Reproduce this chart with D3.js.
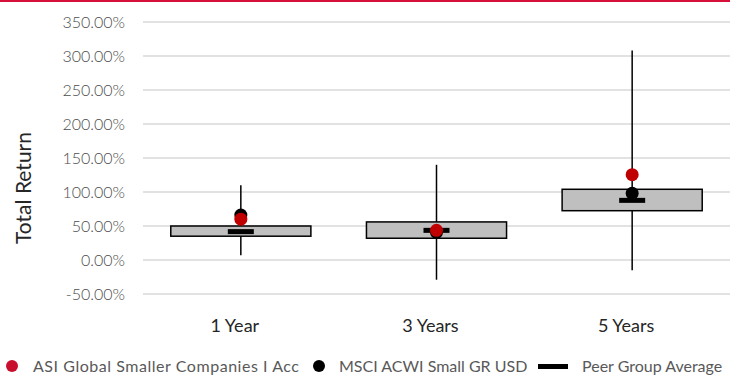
<!DOCTYPE html>
<html><head><meta charset="utf-8">
<script src="https://cdn.jsdelivr.net/npm/d3@7"></script>
<style>body{margin:0;background:#fff;}svg{display:block;font-family:"Lato","Noto Sans",sans-serif;}</style>
</head><body><svg id="c" width="730" height="376"></svg>
<script>
const categories = ["1 Year", "3 Years", "5 Years"];
const whiskerHigh = [110, 140, 308];
const whiskerLow = [7, -29, -15];
const boxHigh = [50, 56, 104];
const boxLow = [35, 32, 72.5];
const peerAvg = [41.7, 43.6, 87.7];
const fundValues = [60, 43.6, 125.5];
const indexValues = [66, 40.7, 98];
const yTicks = [-50, 0, 50, 100, 150, 200, 250, 300, 350];
const seriesNames = ["ASI Global Smaller Companies I Acc", "MSCI ACWI Small GR USD", "Peer Group Average"];

const svg = d3.select("#c");
svg.append("rect").attr("x",0).attr("y",0).attr("width",730).attr("height",2).attr("fill","#d7103a");

const y = d3.scaleLinear().domain([-50, 350]).range([294, 22]);
const x = d3.scaleBand().domain(categories).range([143, 730]).padding(0);
const bw = x.bandwidth();
const boxW = bw * 0.716, peerW = 26;

svg.append("g").selectAll("line").data(yTicks).join("line")
  .attr("x1",143).attr("x2",730).attr("y1",d=>y(d)).attr("y2",d=>y(d))
  .attr("stroke","#d9d9d9").attr("stroke-width",1.3);
const yAxis = d3.axisLeft(y).tickValues(yTicks).tickSize(0).tickPadding(0).tickFormat(d=>d.toFixed(2)+"%");
const ga = svg.append("g").attr("transform","translate(125,0)").call(yAxis);
ga.select(".domain").remove();
ga.selectAll("text").attr("font-size",16).attr("fill","#4d4d4d").attr("font-family","Lato").attr("font-weight",300);

svg.append("text").attr("transform","translate(31,188) rotate(-90)").attr("text-anchor","middle")
  .attr("font-size",21).attr("fill","#262626").text("Total Return");

const data = categories.map((c,i)=>({c, hi:whiskerHigh[i], lo:whiskerLow[i], bh:boxHigh[i], bl:boxLow[i], p:peerAvg[i], f:fundValues[i], ix:indexValues[i]}));
const cx = d => x(d.c) + bw/2;
const g = svg.append("g");
g.selectAll(".wh").data(data).join("line").attr("x1",cx).attr("x2",cx)
  .attr("y1",d=>y(d.hi)).attr("y2",d=>y(d.lo)).attr("stroke","#000").attr("stroke-width",1.5);
g.selectAll(".bx").data(data).join("rect").attr("x",d=>cx(d)-boxW/2).attr("width",boxW)
  .attr("y",d=>y(d.bh)).attr("height",d=>y(d.bl)-y(d.bh)).attr("fill","#bfbfbf").attr("stroke","#000").attr("stroke-width",1.5);
g.selectAll(".pa").data(data).join("rect").attr("x",d=>cx(d)-peerW/2).attr("width",peerW)
  .attr("y",d=>y(d.p)-2.5).attr("height",5).attr("fill","#000");
g.selectAll(".ix").data(data).join("circle").attr("cx",cx).attr("cy",d=>y(d.ix)).attr("r",6.5).attr("fill","#000");
g.selectAll(".fd").data(data).join("circle").attr("cx",cx).attr("cy",d=>y(d.f)).attr("r",6.5).attr("fill","#c00000");

svg.append("g").selectAll("text").data(categories).join("text")
  .attr("x",d=>x(d)+bw/2-6).attr("y",332).attr("text-anchor","middle").attr("font-size",18).attr("fill","#262626").text(d=>d);

const lg = svg.append("g").attr("font-size",16).attr("fill","#595959");
lg.append("circle").attr("cx",12).attr("cy",366).attr("r",6).attr("fill","#c8102e");
lg.append("text").attr("x",33).attr("y",372).attr("textLength",266).attr("lengthAdjust","spacing").text(seriesNames[0]);
lg.append("circle").attr("cx",319).attr("cy",366).attr("r",6).attr("fill","#000");
lg.append("text").attr("x",339).attr("y",372).text(seriesNames[1]);
lg.append("rect").attr("x",538).attr("y",364).attr("width",30).attr("height",5).attr("fill","#000");
lg.append("text").attr("x",582).attr("y",372).text(seriesNames[2]);
</script></body></html>
